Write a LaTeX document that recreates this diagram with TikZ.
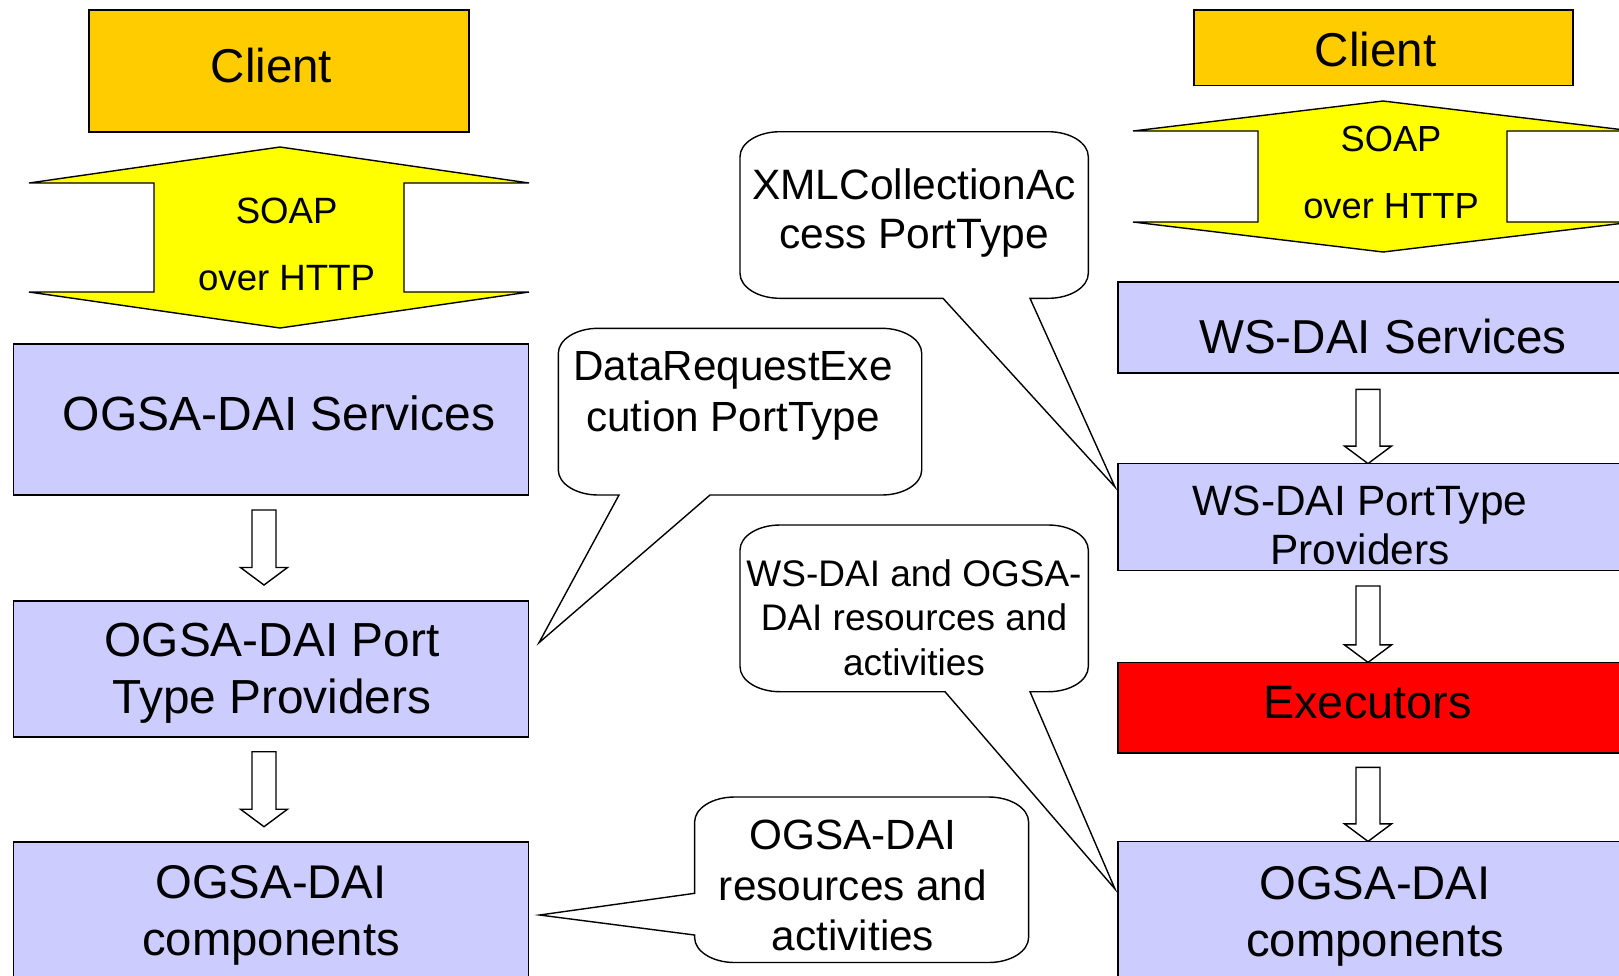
\documentclass[tikz,border=0pt]{standalone}
\usepackage{fontspec}
\setmainfont{Liberation Sans}
\definecolor{clientorange}{HTML}{FFCC00}
\definecolor{soapyellow}{HTML}{FFFF00}
\definecolor{boxblue}{HTML}{CCCCFF}
\definecolor{execred}{HTML}{FF0000}
% font size helper: size in pt
\newcommand\fsz[1]{\fontsize{#1}{#1}\selectfont}
% white block arrow pointing down: x, top y, tip y
\newcommand\blockdown[3]{%
  \draw[blockarrow] ({#1-12},#2) -- ({#1+12},#2) -- ({#1+12},{#3-17.5})
    -- ({#1+23.5},{#3-17.5}) -- (#1,#3) -- ({#1-23.5},{#3-17.5})
    -- ({#1-12},{#3-17.5}) -- cycle;}
% rounded callout with its wedge on the bottom edge:
% left, top, right, bottom, wedge start x, wedge end x, tip
\newcommand\calloutbottom[7]{%
  \draw[callout] ({#1+40},#2) -- ({#3-40},#2)
    .. controls ({#3-17.9},#2) and (#3,{#2+11.2}) .. (#3,{#2+25})
    -- (#3,{#4-25})
    .. controls (#3,{#4-11.2}) and ({#3-17.9},#4) .. ({#3-40},#4)
    -- (#6,#4) -- #7 -- (#5,#4) -- ({#1+40},#4)
    .. controls ({#1+17.9},#4) and (#1,{#4-11.2}) .. (#1,{#4-25})
    -- (#1,{#2+25})
    .. controls (#1,{#2+11.2}) and ({#1+17.9},#2) .. cycle;}
% rounded callout with its wedge on the left edge:
% left, top, right, bottom, wedge upper y, wedge lower y, tip
\newcommand\calloutleft[7]{%
  \draw[callout] ({#1+40},#2) -- ({#3-40},#2)
    .. controls ({#3-17.9},#2) and (#3,{#2+11.2}) .. (#3,{#2+25})
    -- (#3,{#4-25})
    .. controls (#3,{#4-11.2}) and ({#3-17.9},#4) .. ({#3-40},#4)
    -- ({#1+40},#4)
    .. controls ({#1+17.9},#4) and (#1,{#4-11.2}) .. (#1,{#4-25})
    -- (#1,#6) -- #7 -- (#1,#5)
    -- (#1,{#2+25})
    .. controls (#1,{#2+11.2}) and ({#1+17.9},#2) .. cycle;}
\begin{document}
\begin{tikzpicture}[x=1pt,y=-1pt,
  box/.style={draw=black, line width=1.6pt, fill=boxblue, inner sep=0pt,
    outer sep=0pt, anchor=north west},
  clientbox/.style={box, fill=clientorange},
  execbox/.style={box, fill=execred},
  blockarrow/.style={draw=black, line width=1.4pt, fill=white, line join=miter},
  soaparrow/.style={draw=black, line width=1.4pt, fill=soapyellow, line join=miter},
  callout/.style={draw=black, line width=1.4pt, fill=white, line join=miter},
  txt/.style={anchor=base, inner sep=0pt, outer sep=0pt, text=black}]

\clip (0,0) rectangle (1619,975);
\fill[white] (0,0) rectangle (1619,975);

% ---------------- left stack ----------------
\node[clientbox, minimum width=380, minimum height=122] (clientL) at (89,10) {};
\node[txt, font=\fsz{47.5}] (clientLt) at (271.5,82) {Client};

\draw[soaparrow] (29,183) -- (280,147) -- (529,183) -- (404,183) -- (404,292)
  -- (529,292) -- (280,328) -- (29,292) -- (154,292) -- (154,183) -- cycle;
\node[txt, font=\fsz{36.6}] (soapL1) at (286.6,223) {SOAP};
\node[txt, font=\fsz{36.6}] (soapL2) at (286.6,290) {over HTTP};

\node[box, minimum width=515, minimum height=151] (ogsasrv) at (13.6,344) {};
\node[txt, font=\fsz{48}] (ogsasrvt) at (279,430) {OGSA-DAI Services};

\blockdown{264}{510}{585}

\node[box, minimum width=515, minimum height=136] (ogsaport) at (13.6,600.7) {};
\node[txt, font=\fsz{47.8}] (ogsaport1) at (272,656.7) {OGSA-DAI Port};
\node[txt, font=\fsz{47.8}] (ogsaport2) at (272,713.3) {Type Providers};

\blockdown{264}{751.7}{826.7}

\node[box, minimum width=515, minimum height=150] (compL) at (13.6,841.7) {};
\node[txt, font=\fsz{47.3}] (compL1) at (271,898.3) {OGSA-DAI};
\node[txt, font=\fsz{47.3}] (compL2) at (271,955) {components};

% ---------------- right stack ----------------
\node[clientbox, minimum width=378.7, minimum height=75.5] (clientR) at (1194,10) {};
\node[txt, font=\fsz{47.5}] (clientRt) at (1375.5,66.7) {Client};

\draw[soaparrow] (1133,131) -- (1383,101) -- (1633,131) -- (1507,131) -- (1507,222)
  -- (1633,222) -- (1383,252) -- (1133,222) -- (1258,222) -- (1258,131) -- cycle;
\node[txt, font=\fsz{36.3}] (soapR1) at (1391,151) {SOAP};
\node[txt, font=\fsz{36.3}] (soapR2) at (1391,218.3) {over HTTP};

\node[box, minimum width=515, minimum height=91] (wssrv) at (1117.7,282) {};
\node[txt, font=\fsz{47.6}] (wssrvt) at (1383,353.3) {WS-DAI Services};

\blockdown{1368}{389.3}{463.6}

\node[box, minimum width=515, minimum height=107] (wsport) at (1117.7,463.6) {};
\node[txt, font=\fsz{42.4}] (wsport1) at (1360,515.8) {WS-DAI PortType};
\node[txt, font=\fsz{42.4}] (wsport2) at (1360,564.8) {Providers};

\blockdown{1368}{586}{662.4}

\node[execbox, minimum width=515, minimum height=90.3] (exec) at (1117.7,662.4) {};
\node[txt, font=\fsz{46.9}] (exect) at (1367.5,718.4) {Executors};

\blockdown{1368}{767.4}{841.4}

\node[box, minimum width=515, minimum height=150] (compR) at (1117.7,841.4) {};
\node[txt, font=\fsz{47.3}] (compR1) at (1375,899.3) {OGSA-DAI};
\node[txt, font=\fsz{47.3}] (compR2) at (1375,956.4) {components};

% ---------------- callouts ----------------
\coordinate (xmltip) at (1115,487);
\coordinate (drtip) at (539,642.7);
\coordinate (wstip) at (1115,889);
\coordinate (restip) at (539.6,915);

\calloutbottom{740}{131.7}{1088.3}{298.3}{943}{1030}{(xmltip)}
\node[txt, font=\fsz{42.5}] (xml1) at (914,199) {XMLCollectionAc};
\node[txt, font=\fsz{42.5}] (xml2) at (914,248) {cess PortType};

\calloutbottom{558.3}{328.3}{921.7}{495}{619}{710}{(drtip)}
\node[txt, font=\fsz{42.2}] (dr1) at (733,380.5) {DataRequestExe};
\node[txt, font=\fsz{42.2}] (dr2) at (733,431) {cution PortType};

\calloutbottom{740}{525}{1088.3}{691.7}{945}{1030}{(wstip)}
\node[txt, font=\fsz{37}] (ws1) at (914,586) {WS-DAI and OGSA-};
\node[txt, font=\fsz{37}] (ws2) at (914,630.4) {DAI resources and};
\node[txt, font=\fsz{37}] (ws3) at (914,675) {activities};

\calloutleft{694.6}{797}{1028.6}{962.5}{893.3}{935}{(restip)}
\node[txt, font=\fsz{42.3}] (res1) at (853,849) {OGSA-DAI};
\node[txt, font=\fsz{42.3}] (res2) at (853,900) {resources and};
\node[txt, font=\fsz{42.3}] (res3) at (853,950.5) {activities};
\end{tikzpicture}
\end{document}
